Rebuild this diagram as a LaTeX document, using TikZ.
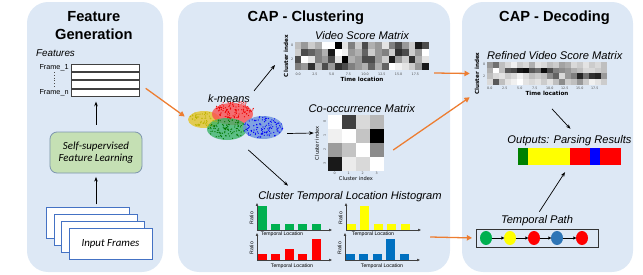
\documentclass[tikz,border=0pt]{standalone}
\usepackage{xcolor}
\usepackage{fontspec}
\setmainfont{Liberation Sans}
\newfontfamily\calfont{Carlito}
\newfontfamily\plotfont{DejaVu Sans}
\usepackage{tikz}
\usetikzlibrary{arrows.meta,positioning,fit,shapes.geometric}

\definecolor{panelblue}{RGB}{221,232,245}
\definecolor{sslgreen}{RGB}{197,224,180}
\definecolor{sslborder}{RGB}{125,150,175}
\definecolor{framblue}{RGB}{68,114,196}
\definecolor{arrorange}{RGB}{237,125,49}
\definecolor{hgreen}{RGB}{0,176,80}
\definecolor{hyellow}{RGB}{255,255,0}
\definecolor{hred}{RGB}{255,0,0}
\definecolor{hblue}{RGB}{0,112,192}
\definecolor{pgreen}{RGB}{0,128,0}
\definecolor{pblue}{RGB}{0,0,255}
\definecolor{cblue}{RGB}{46,117,182}
\definecolor{kyellow}{RGB}{228,196,40}
\definecolor{kred}{RGB}{250,80,80}
\definecolor{kgreen}{RGB}{60,180,105}
\definecolor{kblue}{RGB}{105,145,220}
\definecolor{ydot}{RGB}{190,180,0}
\definecolor{rdot}{RGB}{240,0,0}
\definecolor{gdot}{RGB}{0,120,0}
\definecolor{bdot}{RGB}{0,0,250}

\begin{document}
\begin{tikzpicture}[x=0.03cm, y=-0.03cm,
  panel/.style={fill=panelblue, rounded corners=18pt, inner sep=0},
  title/.style={font=\fontsize{12.5}{15.3}\selectfont\bfseries, align=center},
  lbl/.style={font=\fontsize{9.5}{11}\selectfont\itshape},
  featlbl/.style={font=\fontsize{8.4}{10}\selectfont\itshape},
  flab/.style={font=\fontsize{6.2}{7}\selectfont, inner sep=0.5pt},
  frow/.style={draw=black!75, line width=0.7pt, fill=white, minimum width=2.04cm,
               minimum height=0.22cm, inner sep=0},
  sslbox/.style={draw=sslborder, fill=sslgreen, rounded corners=6pt, line width=0.7pt,
                 minimum width=2.76cm, minimum height=1.23cm, align=center,
                 font=\calfont\fontsize{9.3}{10.8}\selectfont\itshape},
  framebox/.style={draw=framblue, fill=white, line width=0.6pt, minimum width=2.49cm,
                   minimum height=0.93cm, font=\calfont\fontsize{9.3}{10.8}\selectfont\itshape},
  cell/.style={inner sep=0},
  axlab/.style={font=\plotfont\bfseries\fontsize{4.8}{5.5}\selectfont, inner sep=0.5pt},
  smallax/.style={font=\plotfont\fontsize{4.4}{5}\selectfont, inner sep=0.5pt},
  tick/.style={font=\plotfont\fontsize{2.8}{3}\selectfont, inner sep=0.3pt, text=black!70},
  hlab/.style={font=\fontsize{4.4}{5}\selectfont, inner sep=0.3pt},
  hax/.style={-{Triangle[length=2.5pt,width=2pt]}, line width=0.5pt, draw=black!75},
  clus/.style={ellipse, inner sep=0, fill opacity=0.8},
  tdot/.style={ellipse, inner sep=0, minimum width=0.36cm, minimum height=0.42cm},
  arr/.style={-{Stealth[length=4pt,width=3pt]}, semithick},
  sarr/.style={-{Triangle[length=2.5pt,width=2.5pt]}, line width=0.6pt, shorten <=-0.5pt, shorten >=-0.5pt},
  oarr/.style={-{Triangle[length=4.5pt,width=4.5pt]}, line width=1.1pt, draw=arrorange}
]
\useasboundingbox (0,0) rectangle (643,274);

% Panels
\node[panel, fit={(27,2) (163,272)}] (genpanel) {};
\node[panel, fit={(178,2) (450,272)}] (clupanel) {};
\node[panel, fit={(462,2) (633,272)}] (decpanel) {};

\node[title, below=5pt of genpanel.north, xshift=-1pt] (gentitle) {Feature\\Generation};
\node[title, below=4pt of clupanel.north, xshift=-7pt] (clutitle) {CAP - Clustering};
\node[title, below=4pt of decpanel.north, xshift=6pt] (dectitle) {CAP - Decoding};

% Feature generation
\node[featlbl] (featlab) at (55.5,53) {Features};
\foreach \i in {0,...,3}
  \node[frow] (frow\i) at (105,{68+8.2*\i}) {};
\node[fit=(frow0)(frow3), inner sep=0] (ftable) {};
\node[flab, left=1pt of frow0] (f1lab) {Frame\_1};
\node[flab, left=1pt of frow3] (fnlab) {Frame\_n};
\draw[dotted, black!70] (f1lab.south) -- (fnlab.north);

\node[sslbox] (ssl) at (96,152.5) {Self-supervised\\Feature Learning};

\node[framebox] (frame1) at (87.5,222.5) {};
\node[framebox] (frame2) at (95.5,229.5) {};
\node[framebox] (frame3) at (102.5,236.5) {};
\node[framebox] (frame4) at (110.5,243.5) {Input Frames};

\draw[arr, shorten <=2pt, shorten >=3pt] (frame1.north -| ssl.south) -- (ssl.south);
\draw[arr, shorten <=6pt, shorten >=4pt] (ssl.north) -- (ssl.north |- ftable.south);

% Video score matrix
\node[cell, minimum width=4.02cm, minimum height=0.84cm] (vsm) at (362,56) {};
\foreach \rowvals [count=\r from 0] in {
  {0.75,0.6,0.8,0.7,1,1,0,0.9,0.5,0.8,0.3,0.7,0.6,0.9,0.5,0.3,0.6,0.8,0.1,0.3},
  {0.8,0.3,0.4,0.5,0.7,0.1,1,0.95,0.6,0.7,0.4,0.8,0.6,0.5,0.8,0.2,0.3,0.8,0.6,1},
  {0.3,1,0.9,0.5,0.6,0.3,0.9,0,0.7,0.6,0.3,0.3,0.6,0.8,0.1,0.6,0.8,0.2,0.7,0.9},
  {0.5,0.6,0.2,0.7,0.3,0.6,0.2,0.3,0.5,0.6,0.7,0.4,0.7,0.4,1,0.95,0.9,0.8,0.6,0.1}} {
  \foreach \v [count=\c from 0] in \rowvals {
    \pgfmathtruncatemacro\p{100*\v}
    \fill[white!\p!black] ([shift={({\c*6.7},{\r*7})}]vsm.north west) rectangle ++(6.7,7);
  }
}
\node[lbl, above=-1.5pt of vsm] (vsmtitle) {Video Score Matrix};
\node[axlab, rotate=90] (vsmylab) at (286,56) {Cluster index};
\node[tick, anchor=east] (vsmy0) at ([shift={(-1,3.5)}]vsm.north west) {0};
\node[tick, anchor=east] (vsmy2) at ([shift={(-1,17.5)}]vsm.north west) {2};
\foreach \t [count=\k from 0] in {0.0,2.5,5.0,7.5,10.0,12.5,15.0,17.5}
  \node[tick] (vsmx\k) at ([shift={({(2.5*\k+0.5)*6.7},4)}]vsm.south west) {\t};
\node[axlab, below=5pt of vsm] (vsmxlab) {Time location};

% k-means clusters
\node[clus, fill=kyellow, minimum width=0.96cm, minimum height=0.51cm] (ycl) at (204,119.5) {};
\node[clus, fill=kred, minimum width=1.23cm, minimum height=0.66cm] (rcl) at (232.5,114) {};
\node[clus, fill=kgreen, minimum width=1.2cm, minimum height=0.66cm] (gcl) at (227,129) {};
\node[clus, fill=kblue, minimum width=1.2cm, minimum height=0.69cm] (bcl) at (263,127.5) {};
\pgfmathsetseed{11}
\foreach \cx/\cy/\rx/\ry/\col/\n in {203/119.5/15/8/ydot/60, 234/110/20/9/rdot/110,
                                      227/129/19/10/gdot/100, 263/127.5/20/11/bdot/120} {
  \foreach \i in {1,...,\n} {
    \pgfmathsetmacro\ang{360*rnd}
    \pgfmathsetmacro\rad{sqrt(rnd)}
    \fill[\col] ({\cx+\rx*\rad*cos(\ang)},{\cy+\ry*\rad*sin(\ang)}) circle (0.55pt);
  }
}
\node[lbl, font=\fontsize{9.3}{11}\selectfont\itshape] (kmeans) at (229,99) {k-means};

% Co-occurrence matrix
\node[cell, minimum size=1.68cm] (com) at (356,143) {};
\foreach \rowvals [count=\r from 0] in {{1,0.25,0.85,0.72},{0.95,1,0.78,0},
                                        {0.62,0.78,1,0.55},{0.1,0.93,0.85,1}} {
  \foreach \v [count=\c from 0] in \rowvals {
    \pgfmathtruncatemacro\p{100*\v}
    \fill[white!\p!black] ([shift={({\c*14},{\r*14})}]com.north west) rectangle ++(14,14);
  }
}
\node[lbl, above=-1.5pt of com, xshift=5pt] (comtitle) {Co-occurrence Matrix};
\node[smallax, rotate=90] (comylab) at (317,143) {Cluster index};
\foreach \k in {0,...,3} {
  \node[tick, rotate=90] (comy\k) at ([shift={(-3,{7+14*\k})}]com.north west) {\k};
  \node[tick] (comx\k) at ([shift={({7+14*\k},2.5)}]com.south west) {\k};
}
\node[smallax, below=4pt of com] (comxlab) {Cluster index};

% Histograms
\node[lbl] (histtitle) at (350,197) {Cluster Temporal Location Histogram};
\foreach \ox/\oy/\col/\hs/\tx/\ty/\nm in {257/230/hgreen/{24,6,6,6,6}/25/4/hga,
                                          346/230/hyellow/{6,24,6,6,6}/27/4/hgb,
                                          257/260/hred/{6,6,11,6,21}/35/6/hgc,
                                          345/260/hblue/{6,6,6,21,6}/37/6/hgd} {
  \foreach \h [count=\k from 0] in \hs
    \fill[\col] ({\ox+1+13.4*\k},\oy) rectangle ++(9,-\h);
  \draw[hax] (\ox,\oy) -- ++(0,-27);
  \draw[hax] (\ox,\oy) -- ++(75,0);
  \node[hlab, rotate=90] (\nm-r) at (\ox-5.5,\oy-12) {Ratio};
  \node[hlab] (\nm-t) at (\ox+\tx,\oy+\ty) {Temporal Location};
}
\node[inner sep=0, fit={(251,203) (421,268)}] (hist) {};

% Refined video score matrix
\node[cell, minimum width=3.6cm, minimum height=0.69cm] (rvsm) at (547,73.5) {};
\foreach \rowvals [count=\r from 0] in {
  {0.6,0.45,0.75,0.85,0.95,0.8,0.85,0.7,0.9,0.85,0.75,0.8,0.65,0.7,0.85,0.8,0.9,0.8,0.85,0.75},
  {0.7,1,0.75,0.35,0.3,0.1,0.05,0.35,0.45,0.05,0.3,0.5,0.55,0.6,0.7,0.75,0.85,0.85,0.8,0.75},
  {0.75,0.85,0.9,0.8,0.85,0.95,0.85,0.75,0.8,0.75,0.55,0.4,0.85,0.6,0.5,0.15,0.45,0.2,0.15,0.6},
  {0.85,0.35,0.75,0.9,0.95,1,0.9,0.85,0.9,0.8,0.9,0.75,0.55,0.8,0.75,0.6,0.8,0.95,0.9,0.8}} {
  \foreach \v [count=\c from 0] in \rowvals {
    \pgfmathtruncatemacro\p{100*\v}
    \fill[white!\p!black] ([shift={({\c*6},{\r*5.75})}]rvsm.north west) rectangle ++(6,5.75);
  }
}
\node[lbl, above right=-1.5pt and -3.2pt of rvsm.north west] (rvsmtitle) {Refined Video Score Matrix};
\node[axlab, rotate=90] (rvsmylab) at (477,73.5) {Cluster index};
\node[tick, anchor=east] (rvsmy0) at ([shift={(-1,2.9)}]rvsm.north west) {0};
\node[tick, anchor=east] (rvsmy2) at ([shift={(-1,14.4)}]rvsm.north west) {2};
\foreach \t [count=\k from 0] in {0.0,2.5,5.0,7.5,10.0,12.5,15.0,17.5}
  \node[tick] (rvsmx\k) at ([shift={({(2.5*\k+0.5)*6},3.5)}]rvsm.south west) {\t};
\node[axlab, below=4pt of rvsm] (rvsmxlab) {Time location};

% Parsing results
\node[cell, minimum width=3.09cm, minimum height=0.51cm] (parse) at (569.5,156.5) {};
\foreach \xa/\xb/\col in {0/10/pgreen, 10/52/hyellow, 52/72/hred, 72/82/pblue, 82/103/hred}
  \fill[\col] ([xshift=\xa*0.03cm]parse.north west) rectangle ([xshift=\xb*0.03cm]parse.south west);
\node[lbl, above=-1.5pt of parse] (parsetitle) {Outputs: Parsing Results};

% Temporal path
\node[draw=black!80, line width=0.7pt, minimum width=3.66cm, minimum height=0.54cm] (tpath) at (537,238) {};
\foreach \x/\col [count=\k] in {486/hgreen, 510/hyellow, 534/hred, 557/cblue, 582/hred}
  \node[tdot, fill=\col] (td\k) at (\x,238) {};
\foreach \a/\b in {1/2, 2/3, 3/4, 4/5}
  \draw[sarr] (td\a) -- (td\b);
\node[lbl, above=-1.5pt of tpath] (tptitle) {Temporal Path};

% Black arrows
\draw[arr] (kmeans.north east) -- ([shift={(-8,9)}]vsmylab.north);
\draw[arr] ([shift={(4,6)}]bcl.east) -- ([shift={(-14,-10)}]com.west);
\draw[arr] ([shift={(7,13)}]gcl.south east) -- ([shift={(-62,-2)}]histtitle.north);
\draw[arr] ([shift={(5,13)}]rvsmxlab.south) -- ([shift={(1,-2)}]parsetitle.north);
\draw[arr, shorten >=7pt] ([xshift=2pt]tptitle.north) -- (parse.south);

% Orange arrows
\draw[oarr] ([shift={(6,8)}]ftable.east) -- ([shift={(-3,-3)}]ycl.west);
\draw[oarr] ([shift={(5,17)}]vsm.east) -- ([shift={(-17,0)}]rvsm.west);
\draw[oarr] ([shift={(9,7)}]com.east) -- ([shift={(-17,12)}]rvsm.south west);
\draw[oarr, shorten >=3pt] ([shift={(9,1.5)}]hist.east) -- (tpath.west);

\end{tikzpicture}
\end{document}
